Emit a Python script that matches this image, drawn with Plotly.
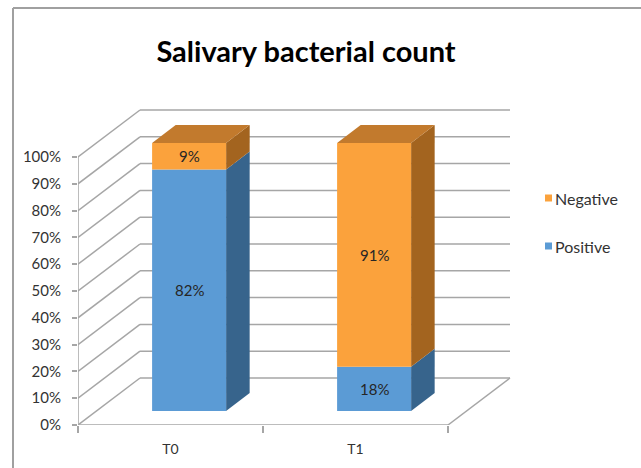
import plotly.graph_objects as go

categories = ["T0", "T1"]
positive = [82, 18]
negative = [9, 91]
series_names = ["Positive", "Negative"]
y_ticks = [0, 10, 20, 30, 40, 50, 60, 70, 80, 90, 100]
y_tick_labels = [f"{v}%" for v in y_ticks]

W, H = 641, 468
PX_X, PX_Y = 185.0, 2.68  # px per category unit / per percent
ML, MR, MT, MB = 78, 119, 104, 43
PW, PH = W - ML - MR, H - MT - MB
XR = PW / PX_X
YR = PH / PX_Y
DX, DY = 62 / PX_X, 47 / PX_Y   # full depth offset in data units
D0, D1 = 0.30, 0.68             # bar depth span (fraction)
BW = 0.40

FONT = "Lato, 'Open Sans', sans-serif"
GRID = "#A6A6A6"
TXT = "#333333"

col_front = {"Positive": "#5B9BD5", "Negative": "#FBA23C"}
col_side = {"Positive": "#37648C", "Negative": "#A3641F"}
col_top = {"Positive": "#4A7FB0", "Negative": "#C27A2D"}

def px2paper_x(p):
    return (p - ML) / PW

def px2paper_y(p):
    return (H - MB - p) / PH

fig = go.Figure()
shapes = []
annotations = []

# walls / floor gridlines
for v in y_ticks:
    shapes.append(dict(type="line", x0=0, y0=v, x1=DX, y1=v + DY,
                       line=dict(color=GRID, width=1.5), layer="below"))
    shapes.append(dict(type="line", x0=DX, y0=v + DY, x1=2 + DX, y1=v + DY,
                       line=dict(color=GRID, width=1.5), layer="below"))
shapes.append(dict(type="line", x0=0, y0=0, x1=0, y1=100,
                   line=dict(color=GRID, width=1.5), layer="below"))
shapes.append(dict(type="line", x0=0, y0=0, x1=2, y1=0,
                   line=dict(color=GRID, width=1.5), layer="below"))
shapes.append(dict(type="line", x0=2, y0=0, x1=2 + DX, y1=DY,
                   line=dict(color=GRID, width=1.5), layer="below"))

# normalised (100% stacked) values
tot = [p + n for p, n in zip(positive, negative)]
pos_pct = [100 * p / t for p, t in zip(positive, tot)]
neg_pct = [100 * n / t for n, t in zip(negative, tot)]
xs = [i + 0.5 + D0 * DX for i in range(len(categories))]

fig.add_trace(go.Bar(x=xs, y=pos_pct, base=[D0 * DY] * len(xs), width=BW,
                     marker=dict(color=col_front["Positive"], line=dict(width=0)),
                     name="Positive", hoverinfo="skip"))
fig.add_trace(go.Bar(x=xs, y=neg_pct, base=[D0 * DY + p for p in pos_pct], width=BW,
                     marker=dict(color=col_front["Negative"], line=dict(width=0)),
                     name="Negative", hoverinfo="skip"))

def poly(pts):
    return "M " + " L ".join(f"{x},{y}" for x, y in pts) + " Z"

for i, c in enumerate(categories):
    xr = i + 0.5 + BW / 2
    xl = i + 0.5 - BW / 2
    segs = [("Positive", 0, pos_pct[i], positive[i]),
            ("Negative", pos_pct[i], 100, negative[i])]
    for name, lo, hi, raw in segs:
        pts = [(xr + D0 * DX, lo + D0 * DY), (xr + D0 * DX, hi + D0 * DY),
               (xr + D1 * DX, hi + D1 * DY), (xr + D1 * DX, lo + D1 * DY)]
        shapes.append(dict(type="path", path=poly(pts), fillcolor=col_side[name],
                           line=dict(width=0), layer="below"))
        annotations.append(dict(x=i + 0.5 + D0 * DX, y=(lo + hi) / 2 + D0 * DY,
                                text=f"{raw}%", showarrow=False,
                                font=dict(family=FONT, size=15, color="#262626")))
    # top face
    pts = [(xl + D0 * DX, 100 + D0 * DY), (xr + D0 * DX, 100 + D0 * DY),
           (xr + D1 * DX, 100 + D1 * DY), (xl + D1 * DX, 100 + D1 * DY)]
    shapes.append(dict(type="path", path=poly(pts), fillcolor=col_top["Negative"],
                       line=dict(width=0), layer="below"))

# outer border (top & left)
shapes.append(dict(type="line", xref="paper", yref="paper",
                   x0=px2paper_x(13), y0=px2paper_y(8), x1=px2paper_x(641), y1=px2paper_y(8),
                   line=dict(color="#A0A0A0", width=2)))
shapes.append(dict(type="line", xref="paper", yref="paper",
                   x0=px2paper_x(13), y0=px2paper_y(8), x1=px2paper_x(13), y1=px2paper_y(470),
                   line=dict(color="#A0A0A0", width=2)))

# manual legend
leg = [("Negative", 198), ("Positive", 246)]
for name, py in leg:
    shapes.append(dict(type="rect", xref="paper", yref="paper",
                       x0=px2paper_x(545), x1=px2paper_x(552),
                       y0=px2paper_y(py - 3.5), y1=px2paper_y(py + 3.5),
                       fillcolor=col_front[name], line=dict(width=0)))
    annotations.append(dict(xref="paper", yref="paper", x=px2paper_x(553), y=px2paper_y(py),
                            xanchor="left", yanchor="middle", text=name, showarrow=False,
                            font=dict(family=FONT, size=16, color=TXT)))

fig.update_layout(
    width=W, height=H,
    margin=dict(l=ML, r=MR, t=MT, b=MB),
    plot_bgcolor="white", paper_bgcolor="white",
    barmode="overlay", showlegend=False,
    title=dict(text="<b>Salivary bacterial count</b>", x=306 / W, xanchor="center",
               y=1 - 52 / H, yanchor="middle", xref="container", yref="container",
               font=dict(family=FONT, size=29, color="#000000")),
    xaxis=dict(range=[0, XR], showgrid=False, zeroline=False, showline=False,
               tickvals=[0.5, 1.5], ticktext=categories, ticks="", ticklabelstandoff=14,
               tickfont=dict(family=FONT, size=14, color=TXT),
               minor=dict(tickvals=[0, 1, 2], ticks="outside", ticklen=7,
                          tickcolor=GRID, tickwidth=1.5, showgrid=False)),
    yaxis=dict(range=[0, YR], showgrid=False, zeroline=False, showline=False,
               tickvals=y_ticks, ticktext=y_tick_labels, ticks="outside", ticklen=5,
               tickcolor=GRID, tickwidth=1.5, ticklabelstandoff=8,
               tickfont=dict(family=FONT, size=15, color=TXT)),
    shapes=shapes, annotations=annotations,
)

fig.write_html("out.html", config={"displayModeBar": False},
               post_script="document.body.style.margin='0';document.body.style.overflow='hidden';")
